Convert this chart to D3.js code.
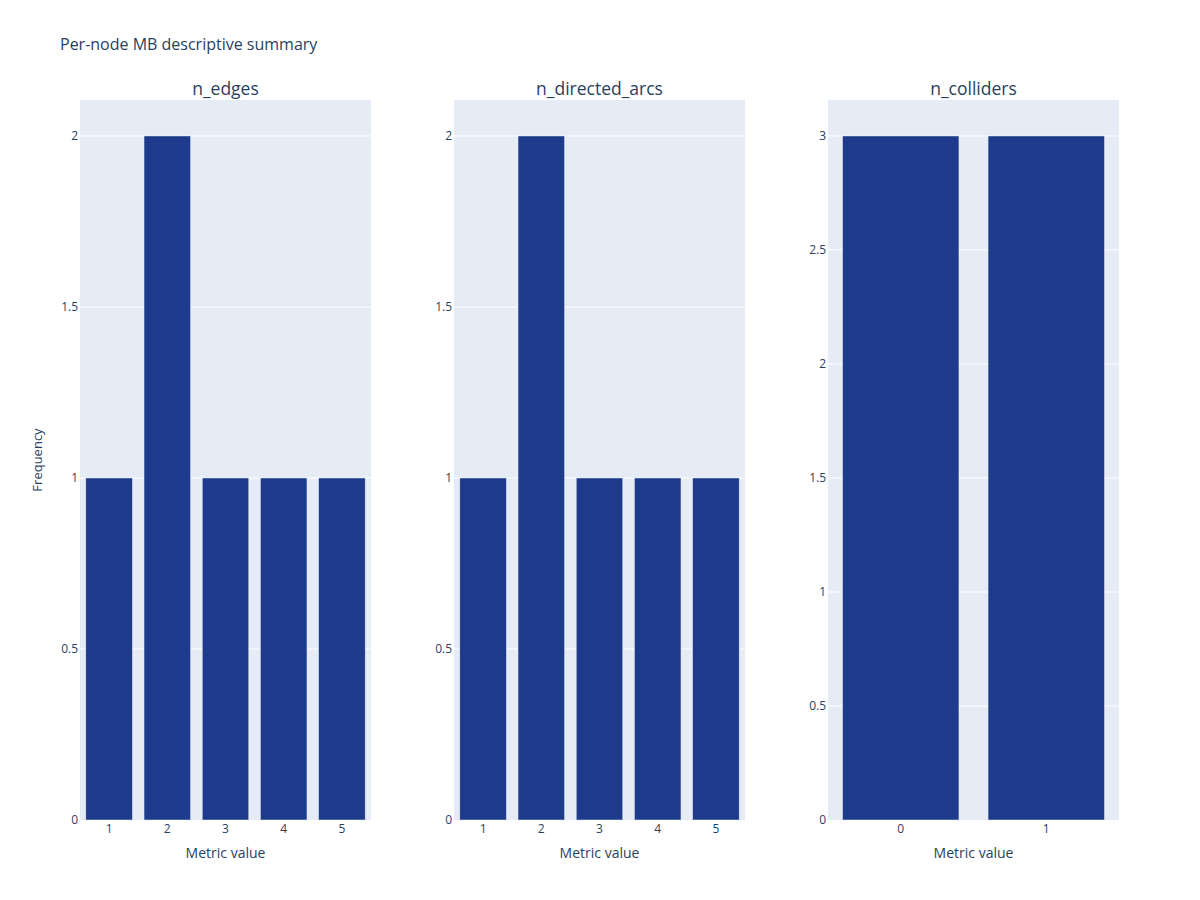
<!DOCTYPE html>
<html>
<head>
<meta charset="utf-8">
<script src="https://cdn.jsdelivr.net/npm/d3@7"></script>
<style>
  body { margin: 0; background: white; }
  text { font-family: "Open Sans", verdana, arial, sans-serif; fill: #2a3f5f; }
</style>
</head>
<body>
<div id="chart"></div>
<script>
// data
var panelTitles = ["n_edges", "n_directed_arcs", "n_colliders"];
var edgeValues = ["1", "2", "3", "4", "5"];
var edgeCounts = [1, 2, 1, 1, 1];
var arcValues = ["1", "2", "3", "4", "5"];
var arcCounts = [1, 2, 1, 1, 1];
var colliderValues = ["0", "1"];
var colliderCounts = [3, 3];
var yTicks = [[0, 0.5, 1, 1.5, 2], [0, 0.5, 1, 1.5, 2], [0, 0.5, 1, 1.5, 2, 2.5, 3]];

var panels = [
  { title: panelTitles[0], cats: edgeValues, counts: edgeCounts, ticks: yTicks[0] },
  { title: panelTitles[1], cats: arcValues, counts: arcCounts, ticks: yTicks[1] },
  { title: panelTitles[2], cats: colliderValues, counts: colliderCounts, ticks: yTicks[2] }
];

var svg = d3.select("#chart")
            .append("svg")
            .attr("width", 1200)
            .attr("height", 900)
            .style("background-color", "white");

svg.append("text")
   .attr("x", 60)
   .attr("y", 50)
   .style("font-size", "16px")
   .text("Per-node MB descriptive summary");

var plotTop = 100, plotBottom = 820, pw = 291;
var lefts = [80, 454, 828];

panels.forEach(function(p, i) {
  var x0 = lefts[i];
  var g = svg.append("g");

  var x = d3.scaleBand()
            .domain(p.cats)
            .range([x0, x0 + pw])
            .paddingInner(0.2)
            .paddingOuter(0.1);
  var y = d3.scaleLinear()
            .domain([0, d3.max(p.counts) * 1.0526])
            .range([plotBottom, plotTop]);

  // plot background
  g.append("rect")
   .attr("x", x0)
   .attr("y", plotTop)
   .attr("width", pw)
   .attr("height", plotBottom - plotTop)
   .attr("fill", "#E5ECF6");

  // gridlines
  g.selectAll(".grid")
   .data(p.ticks.filter(function(t) { return t > 0; }))
   .enter().append("line")
   .attr("x1", x0)
   .attr("x2", x0 + pw)
   .attr("y1", function(d) { return y(d); })
   .attr("y2", function(d) { return y(d); })
   .attr("stroke", "white")
   .attr("stroke-width", 1);

  // bars
  g.selectAll(".bar")
   .data(p.cats)
   .enter().append("rect")
   .attr("x", function(d) { return x(d); })
   .attr("y", function(d, j) { return y(p.counts[j]); })
   .attr("width", x.bandwidth())
   .attr("height", function(d, j) { return plotBottom - y(p.counts[j]); })
   .attr("fill", "#1E3A8A")
   .attr("stroke", "#E5ECF6")
   .attr("stroke-width", 0.5);

  // y tick labels
  g.selectAll(".ytick")
   .data(p.ticks)
   .enter().append("text")
   .attr("x", x0 - 2)
   .attr("y", function(d) { return y(d) + 4; })
   .attr("text-anchor", "end")
   .style("font-size", "12px")
   .text(function(d) { return d; });

  // x tick labels
  g.selectAll(".xtick")
   .data(p.cats)
   .enter().append("text")
   .attr("x", function(d) { return x(d) + x.bandwidth() / 2; })
   .attr("y", plotBottom + 13)
   .attr("text-anchor", "middle")
   .style("font-size", "12px")
   .text(function(d) { return d; });

  // x axis title
  g.append("text")
   .attr("x", x0 + pw / 2)
   .attr("y", plotBottom + 38)
   .attr("text-anchor", "middle")
   .style("font-size", "14px")
   .text("Metric value");

  // subplot title
  g.append("text")
   .attr("x", x0 + pw / 2)
   .attr("y", plotTop - 5)
   .attr("text-anchor", "middle")
   .style("font-size", "17.5px")
   .text(p.title);
});

// y axis title
svg.append("text")
   .attr("transform", "translate(42," + ((plotTop + plotBottom) / 2) + ") rotate(-90)")
   .attr("text-anchor", "middle")
   .style("font-size", "13px")
   .text("Frequency");
</script>
</body>
</html>
